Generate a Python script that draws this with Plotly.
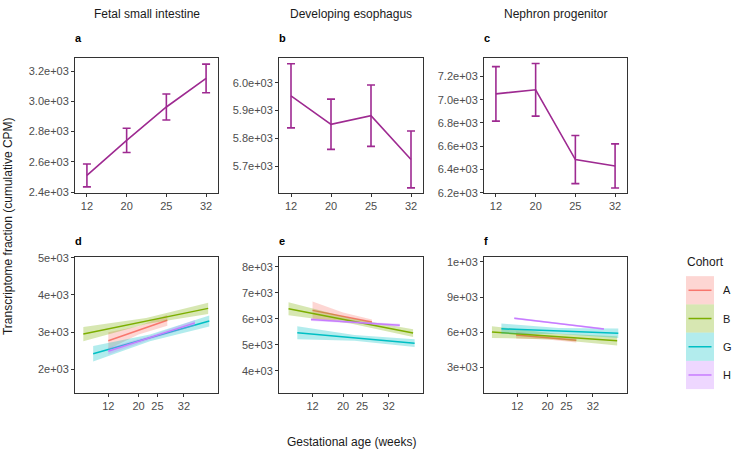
import plotly.graph_objects as go

# top row: mean transcriptome fraction per gestational age (CPM)
ages = ["12", "20", "25", "32"]
si_mean = [2510, 2742, 2963, 3152]
si_err = [76, 80, 86, 95]
eso_mean = [5953, 5851, 5882, 5725]
eso_err = [115, 90, 110, 102]
neph_mean = [7050, 7085, 6485, 6430]
neph_err = [234, 226, 207, 190]

# bottom row: linear fits per cohort, read at start / middle / end of each cohort's age span
cohorts = ["A", "B", "G", "H"]
cohort_colors = {"A": "#F8766D", "B": "#7CAE00", "G": "#00BFC4", "H": "#C77CFF"}
cohort_fills = {"A": "rgba(248,118,109,0.3)", "B": "rgba(124,174,0,0.3)",
                "G": "rgba(0,191,196,0.3)", "H": "rgba(199,124,255,0.3)"}

d_x = {"A": [12, 20, 27.6], "B": [5.4, 22, 38.4], "G": [8, 23, 38.7], "H": [12, 23.5, 34.9]}
d_fit = {"A": [2770, 3050, 3320], "B": [2950, 3300, 3640], "G": [2420, 2850, 3300], "H": [2490, 2870, 3250]}
d_se = {"A": [230, 110, 150], "B": [190, 80, 150], "G": [210, 90, 150], "H": [90, 50, 80]}

e_x = {"A": [12, 20, 27.6], "B": [5.7, 22, 38.4], "G": [8, 23, 38.8], "H": [11.6, 23.5, 34.9]}
e_fit = {"A": [6325, 6095, 5875], "B": [6390, 5920, 5450], "G": [5460, 5265, 5060], "H": [5975, 5860, 5750]}
e_se = {"A": [340, 150, 100], "B": [250, 100, 150], "G": [250, 110, 150], "H": [60, 40, 60]}

f_x = {"A": [11.7, 20, 27.6], "B": [5.3, 22, 38.4], "G": [7.8, 23, 38.7], "H": [11.2, 23, 34.9]}
f_fit = {"A": [5750, 5520, 5300], "B": [6000, 5620, 5250], "G": [6280, 6090, 5900], "H": [7190, 6730, 6270]}
f_se = {"A": [300, 150, 200], "B": [500, 250, 400], "G": [450, 250, 400], "H": [90, 60, 90]}

age_ticks = [12, 20, 25, 32]
d_yticks = [2000, 3000, 4000, 5000]
d_ylabels = ["2e+03", "3e+03", "4e+03", "5e+03"]
e_yticks = [4000, 5000, 6000, 7000, 8000]
e_ylabels = ["4e+03", "5e+03", "6e+03", "7e+03", "8e+03"]
f_yticks = [3000, 6000, 9000, 12000]
f_ylabels = ["3e+03", "6e+03", "9e+03", "1e+03"]

titles = ["Fetal small intestine", "Developing esophagus", "Nephron progenitor"]
letters = ["a", "b", "c", "d", "e", "f"]

W, H = 732, 454
PURPLE = "#9E2A91"
FONT = "Liberation Sans, Arial, sans-serif"
TXT = "#1A1A1A"

fig = go.Figure()

# top row
top = [(si_mean, si_err), (eso_mean, eso_err), (neph_mean, neph_err)]
for i, (m, err) in enumerate(top):
    n = i + 1
    fig.add_trace(go.Scatter(
        x=ages, y=m, mode="lines",
        line=dict(color=PURPLE, width=1.6),
        error_y=dict(type="data", array=err, color=PURPLE, thickness=1.6, width=4),
        xaxis="x%d" % n, yaxis="y%d" % n, showlegend=False, hoverinfo="skip"))

# bottom row
bottom = [(d_x, d_fit, d_se), (e_x, e_fit, e_se), (f_x, f_fit, f_se)]
for i, (xs, fit, se) in enumerate(bottom):
    n = i + 4
    for c in cohorts:
        x = xs[c]
        hi = [v + s for v, s in zip(fit[c], se[c])]
        lo = [v - s for v, s in zip(fit[c], se[c])]
        fig.add_trace(go.Scatter(
            x=x + x[::-1], y=hi + lo[::-1], fill="toself", mode="lines",
            line=dict(width=0), fillcolor=cohort_fills[c],
            xaxis="x%d" % n, yaxis="y%d" % n, showlegend=False, hoverinfo="skip"))
        fig.add_trace(go.Scatter(
            x=x, y=fit[c], mode="lines",
            line=dict(color=cohort_colors[c], width=1.5),
            xaxis="x%d" % n, yaxis="y%d" % n, showlegend=False, name=c))

# panel geometry (pixels)
col_x = [(75, 218), (279, 423), (484, 627)]
row_y = [(53, 192), (258, 397)]

def px_x(p):
    return p / W

def px_y(p):
    return 1 - p / H

axis_common = dict(showline=True, mirror=True, linecolor="#333333", linewidth=1,
                   ticks="outside", ticklen=3, tickcolor="#333333", showgrid=False,
                   zeroline=False, tickfont=dict(size=11, color="#4D4D4D", family=FONT))

top_ranges = [[2394, 3290], [5605, 6090], [6198, 7362]]
top_ticks = [[2400, 2600, 2800, 3000, 3200], [5700, 5800, 5900, 6000],
             [6200, 6400, 6600, 6800, 7000, 7200]]
top_labels = [["2.4e+03", "2.6e+03", "2.8e+03", "3.0e+03", "3.2e+03"],
              ["5.7e+03", "5.8e+03", "5.9e+03", "6.0e+03"],
              ["6.2e+03", "6.4e+03", "6.6e+03", "6.8e+03", "7.0e+03", "7.2e+03"]]
bottom_ranges = [[1380, 5015], [3160, 8375], [830, 12410]]
bottom_ticks = [(d_yticks, d_ylabels), (e_yticks, e_ylabels), (f_yticks, f_ylabels)]

layout = {}
for i in range(3):
    x0, x1 = col_x[i]
    n = i + 1
    layout["xaxis%d" % n] = dict(axis_common, domain=[px_x(x0), px_x(x1)], type="category",
                                 range=[-0.3, 3.3], anchor="y%d" % n)
    layout["yaxis%d" % n] = dict(axis_common, domain=[px_y(row_y[0][1]), px_y(row_y[0][0])],
                                 range=top_ranges[i], tickvals=top_ticks[i],
                                 ticktext=top_labels[i], anchor="x%d" % n)
    n = i + 4
    layout["xaxis%d" % n] = dict(axis_common, domain=[px_x(x0), px_x(x1)],
                                 range=[3.2, 41], tickvals=age_ticks,
                                 ticktext=[str(a) for a in age_ticks], anchor="y%d" % n)
    layout["yaxis%d" % n] = dict(axis_common, domain=[px_y(row_y[1][1]), px_y(row_y[1][0])],
                                 range=bottom_ranges[i], tickvals=bottom_ticks[i][0],
                                 ticktext=bottom_ticks[i][1], anchor="x%d" % n)


def label(text, x, y, size=12, xanchor="center", angle=0, color=TXT):
    return dict(text=text, x=px_x(x), y=px_y(y), xref="paper", yref="paper",
                xanchor=xanchor, yanchor="middle", textangle=angle, showarrow=False,
                font=dict(size=size, color=color, family=FONT))


annotations = []
for i, t in enumerate(titles):
    annotations.append(label(t, sum(col_x[i]) / 2, 8))
for i, l in enumerate(letters):
    r, c = divmod(i, 3)
    annotations.append(label("<b>%s</b>" % l, col_x[c][0] - 2, 33 if r == 0 else 241,
                             size=11, xanchor="left", color="black"))
annotations.append(label("Transcriptome fraction (cumulative CPM)", 8, 226, angle=-90))
annotations.append(label("Gestational age (weeks)", 351, 448))

# legend drawn by hand so each key shows its ribbon colour
shapes = []
annotations.append(label("Cohort", 685, 263, xanchor="left"))
for k, c in enumerate(cohorts):
    top_px = 277.5 + 29 * k
    shapes.append(dict(type="rect", xref="paper", yref="paper", x0=px_x(686), x1=px_x(714),
                       y0=px_y(top_px + 29), y1=px_y(top_px), fillcolor=cohort_fills[c], line=dict(width=0)))
    shapes.append(dict(type="line", xref="paper", yref="paper", x0=px_x(688.5), x1=px_x(711.5),
                       y0=px_y(top_px + 14.5), y1=px_y(top_px + 14.5),
                       line=dict(color=cohort_colors[c], width=1.5)))
    annotations.append(label(c, 721, top_px + 14.5, size=11, xanchor="left"))

fig.update_layout(width=W, height=H, margin=dict(l=0, r=0, t=0, b=0),
                  plot_bgcolor="white", paper_bgcolor="white",
                  font=dict(family=FONT), annotations=annotations, shapes=shapes, **layout)

fig.write_html("out.html", config={"displayModeBar": False},
               post_script="document.body.style.margin='0';")
